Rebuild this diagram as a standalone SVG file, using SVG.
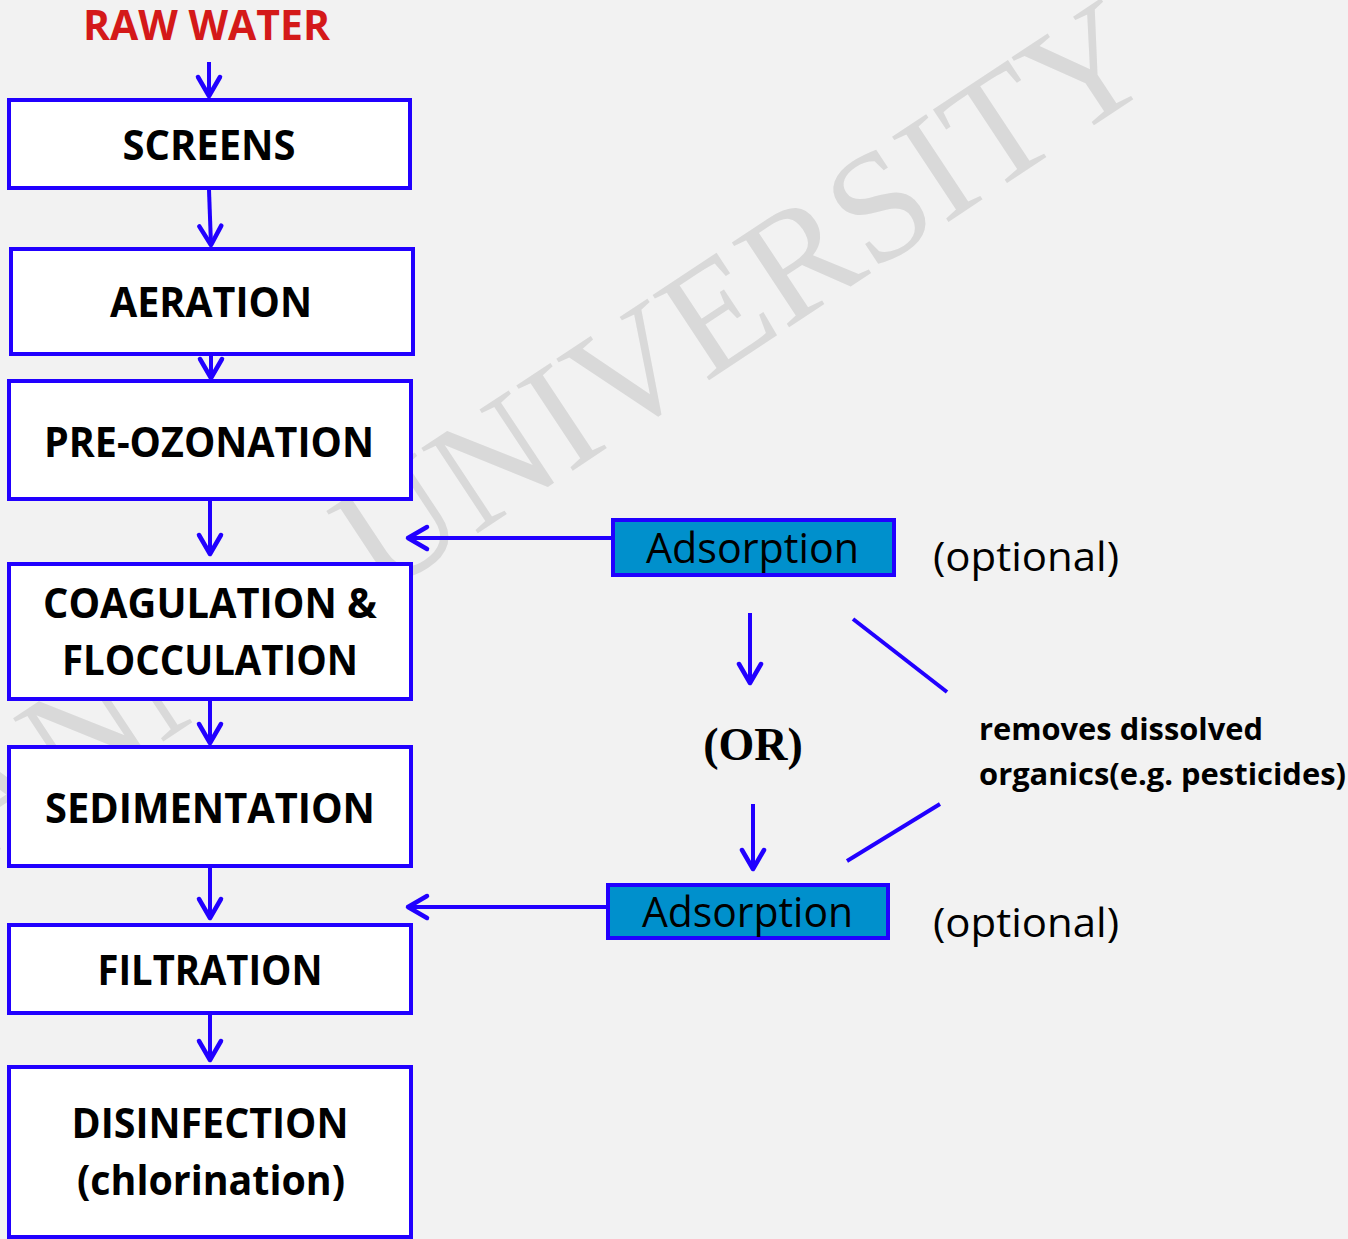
<svg xmlns="http://www.w3.org/2000/svg" width="1348" height="1239" viewBox="0 0 1348 1239">
<defs>
<style>
.bg{fill:#f2f2f2}
.wm{font-family:"Liberation Serif","Times New Roman",serif;font-size:156px;fill:#d9d9d9}
.box{fill:#ffffff;stroke:#2100ff;stroke-width:4}
.abox{fill:#0090cc;stroke:#2100ff;stroke-width:4}
.lbl{font-family:"Open Sans","Noto Sans",sans-serif;font-weight:bold;font-size:42px;fill:#000000;text-anchor:middle}
.reg{font-family:"Open Sans","Noto Sans",sans-serif;font-size:42px;fill:#000000}
.note{font-family:"Open Sans","Noto Sans",sans-serif;font-weight:bold;font-size:31px;fill:#000000}
.or{font-family:"Liberation Serif","Times New Roman",serif;font-weight:bold;font-size:46px;fill:#000000;text-anchor:middle}
.conn line{stroke:#2100ff;stroke-width:4;fill:none}
.arr{marker-end:url(#ah)}
</style>
<marker id="ah" markerUnits="userSpaceOnUse" viewBox="-22 -14 26 28" refX="0" refY="0" markerWidth="26" markerHeight="28" orient="auto" overflow="visible">
<path d="M-19,-11 L0,0 L-19,11" fill="none" stroke="#2100ff" stroke-width="4.5" stroke-linecap="round" stroke-linejoin="round"/>
</marker>
</defs>
<rect class="bg" x="0" y="0" width="1348" height="1239"/>
<g id="watermark" transform="rotate(-33.5 380 598)">
<text class="wm" x="341" y="598" text-anchor="end">ANNA</text>
<text class="wm" x="380" y="598">UNIVERSITY</text>
</g>
<g id="raw-water">
<text x="83" y="40" textLength="247" lengthAdjust="spacingAndGlyphs" style="font-family:'Open Sans','Noto Sans',sans-serif;font-weight:bold;font-size:42px;fill:#d41919">RAW WATER</text>
</g>
<g id="screens">
<rect class="box" x="9" y="100" width="401" height="88"/>
<text class="lbl" x="209" y="160" textLength="173" lengthAdjust="spacingAndGlyphs">SCREENS</text>
</g>
<g id="aeration">
<rect class="box" x="11" y="249" width="402" height="105"/>
<text class="lbl" x="211" y="317" textLength="202" lengthAdjust="spacingAndGlyphs">AERATION</text>
</g>
<g id="pre-ozonation">
<rect class="box" x="9" y="381" width="402" height="118"/>
<text class="lbl" x="209" y="457" textLength="330" lengthAdjust="spacingAndGlyphs">PRE-OZONATION</text>
</g>
<g id="coagulation">
<rect class="box" x="9" y="564" width="402" height="135"/>
<text class="lbl" x="210" y="618" textLength="334" lengthAdjust="spacingAndGlyphs">COAGULATION &amp;</text>
<text class="lbl" x="210" y="675" textLength="296" lengthAdjust="spacingAndGlyphs">FLOCCULATION</text>
</g>
<g id="sedimentation">
<rect class="box" x="9" y="747" width="402" height="119"/>
<text class="lbl" x="210" y="823" textLength="330" lengthAdjust="spacingAndGlyphs">SEDIMENTATION</text>
</g>
<g id="filtration">
<rect class="box" x="9" y="925" width="402" height="88"/>
<text class="lbl" x="210" y="985" textLength="225" lengthAdjust="spacingAndGlyphs">FILTRATION</text>
</g>
<g id="disinfection">
<rect class="box" x="9" y="1067" width="402" height="170"/>
<text class="lbl" x="210" y="1138" textLength="277" lengthAdjust="spacingAndGlyphs">DISINFECTION</text>
<text class="lbl" x="211" y="1195" textLength="268" lengthAdjust="spacingAndGlyphs">(chlorination)</text>
</g>
<g id="adsorption-1">
<rect class="abox" x="613" y="520" width="281" height="55"/>
<text class="reg" x="646" y="563" textLength="213" lengthAdjust="spacingAndGlyphs">Adsorption</text>
</g>
<g id="adsorption-2">
<rect class="abox" x="608" y="885" width="280" height="53"/>
<text class="reg" x="642" y="927" textLength="211" lengthAdjust="spacingAndGlyphs">Adsorption</text>
</g>
<g id="optional-1">
<text class="reg" x="933" y="571" textLength="186" lengthAdjust="spacingAndGlyphs" style="font-size:40px">(optional)</text>
</g>
<g id="optional-2">
<text class="reg" x="933" y="937" textLength="186" lengthAdjust="spacingAndGlyphs" style="font-size:40px">(optional)</text>
</g>
<g id="or-label">
<text class="or" x="753" y="760">(OR)</text>
</g>
<g id="note">
<text class="note" x="979" y="740" textLength="284" lengthAdjust="spacingAndGlyphs">removes dissolved</text>
<text class="note" x="979" y="785" textLength="367" lengthAdjust="spacingAndGlyphs">organics(e.g. pesticides)</text>
</g>
<g id="connectors" class="conn">
<line class="arr" x1="209" y1="62" x2="209" y2="96"/>
<line class="arr" x1="209" y1="190" x2="211" y2="245"/>
<line class="arr" x1="211" y1="356" x2="211" y2="378"/>
<line class="arr" x1="210" y1="501" x2="210" y2="554"/>
<line class="arr" x1="210" y1="701" x2="210" y2="743"/>
<line class="arr" x1="210" y1="868" x2="210" y2="918"/>
<line class="arr" x1="210" y1="1015" x2="210" y2="1060"/>
<line class="arr" x1="611" y1="538" x2="408" y2="538"/>
<line class="arr" x1="606" y1="907" x2="408" y2="907"/>
<line class="arr" x1="750" y1="613" x2="750" y2="683"/>
<line class="arr" x1="753" y1="804" x2="753" y2="869"/>
<line x1="853" y1="619" x2="947" y2="692"/>
<line x1="847" y1="861" x2="940" y2="804"/>
</g>
</svg>
